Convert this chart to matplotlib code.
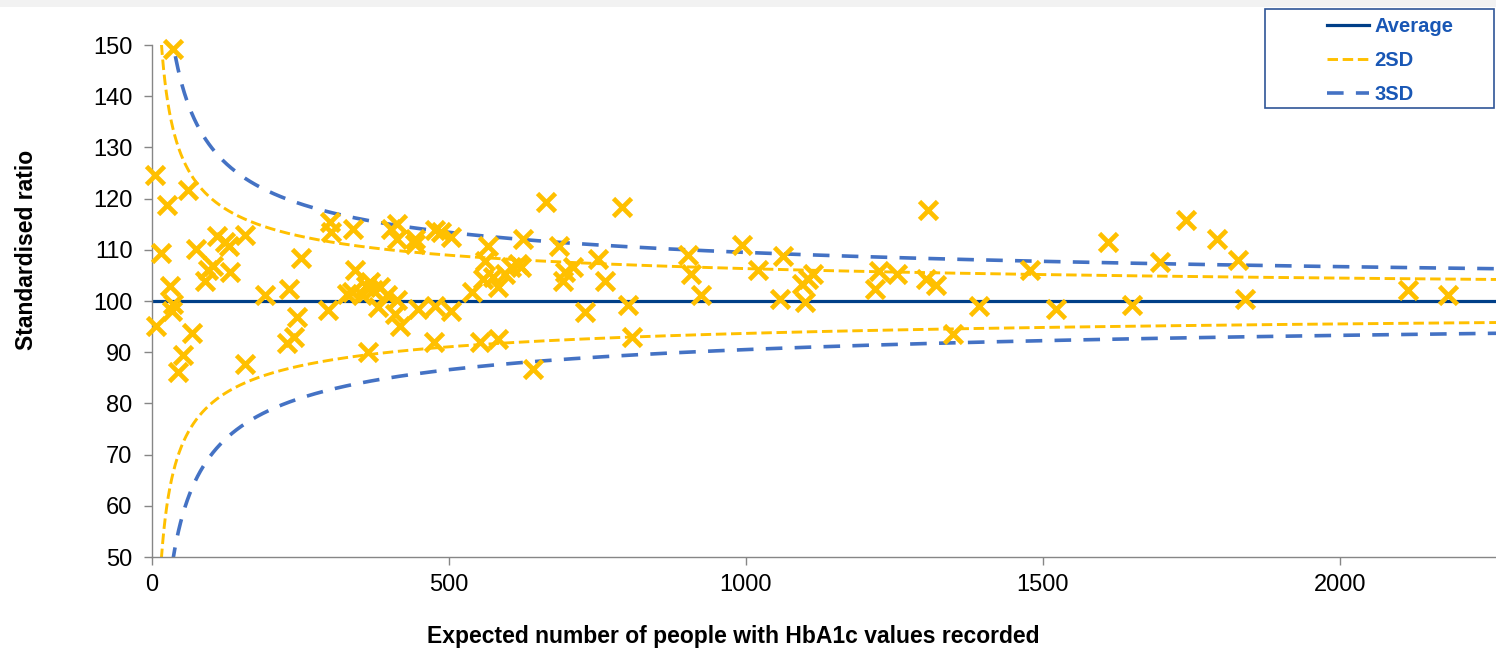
import numpy as np
import matplotlib
matplotlib.use("Agg")
import matplotlib.pyplot as plt
from matplotlib.patches import Rectangle

plt.rcParams['font.family'] = ['Liberation Sans', 'DejaVu Sans']

# expected number of people (x) and standardised ratio (y)
expected = [5, 7, 15, 26, 36, 31, 36, 33, 44, 53, 60, 67, 74, 89, 95, 103, 109, 123, 130, 132,
            157, 157, 190, 227, 231, 239, 244, 251, 297, 300, 301, 328, 336, 339, 342, 353, 361, 364, 367, 372,
            381, 384, 395, 403, 409, 412, 412, 412, 417, 443, 443, 448, 474, 476, 476, 487, 504, 504, 538, 552,
            558, 561, 566, 575, 583, 583, 594, 605, 617, 622, 625, 642, 663, 686, 692, 695, 709, 729, 751, 763,
            791, 802, 809, 903, 907, 925, 994, 1021, 1057, 1063, 1094, 1100, 1105, 1113, 1217, 1224, 1254, 1303, 1307, 1320,
            1348, 1393, 1478, 1522, 1610, 1650, 1697, 1741, 1794, 1829, 1840, 2115, 2182]
ratio = [124.7, 95.2, 109.3, 118.8, 149.2, 103.0, 99.5, 98.1, 86.1, 89.4, 121.7, 93.7, 110.2, 104.0, 106.0, 106.9, 112.6, 111.5, 110.8, 105.6,
         112.8, 87.7, 101.1, 91.8, 102.4, 92.9, 96.8, 108.4, 98.3, 115.4, 113.4, 101.4, 101.7, 114.1, 106.0, 101.1, 103.0, 90.0, 103.7, 102.1,
         98.8, 102.7, 101.1, 114.1, 97.5, 115.1, 112.1, 100.1, 95.2, 112.1, 111.2, 98.5, 92.0, 113.8, 99.1, 113.4, 112.5, 98.1, 101.7, 92.0,
         104.3, 107.9, 110.8, 104.6, 102.7, 92.6, 105.3, 106.6, 107.3, 106.6, 112.1, 86.7, 119.3, 110.8, 104.0, 105.6, 106.6, 97.8, 108.2, 104.0,
         118.3, 99.2, 92.9, 108.9, 105.3, 101.1, 111.0, 106.0, 100.4, 108.7, 103.4, 99.8, 104.3, 105.2, 102.4, 105.8, 105.3, 104.3, 117.7, 103.2,
         93.6, 99.0, 106.1, 98.5, 111.5, 99.3, 107.6, 115.9, 112.1, 108.0, 100.4, 102.2, 101.1]

average = 100
z_2sd = 2
z_3sd = 3
x_max = 2263

fig = plt.figure(figsize=(14.96, 6.49), dpi=100)
fig.add_artist(Rectangle((0, 1 - 7 / 649), 1, 7 / 649, transform=fig.transFigure,
                         fc='#f2f2f2', ec='none'))
ax = fig.add_axes([152 / 1496, 1 - 557 / 649, 1 - 152 / 1496, (557 - 45) / 649])

# funnel limits: average +/- z * sd, sd = average / sqrt(expected)
grid = np.geomspace(1, x_max, 3000)
sd = average / np.sqrt(grid)

ax.axhline(average, color='#003f88', lw=2.3, zorder=2, label='Average')
ax.plot(grid, average + z_2sd * sd, color='#ffc000', lw=2.1, ls=(0, (3.6, 1.6)), label='2SD')
ax.plot(grid, average - z_2sd * sd, color='#ffc000', lw=2.1, ls=(0, (3.6, 1.6)))
ax.plot(grid, average + z_3sd * sd, color='#4472c4', lw=2.6, ls=(0, (4.6, 3.4)), label='3SD')
ax.plot(grid, average - z_3sd * sd, color='#4472c4', lw=2.6, ls=(0, (4.6, 3.4)))

ax.plot(expected, ratio, ls='none', marker='x', ms=12.5, mew=3.4, color='#ffc000',
        zorder=4, clip_on=False)

ax.set_xlim(0, x_max)
ax.set_ylim(50, 150)
ax.set_yticks(range(50, 151, 10))
ax.set_xticks([0, 500, 1000, 1500, 2000])
for s in ['top', 'right']:
    ax.spines[s].set_visible(False)
for s in ['left', 'bottom']:
    ax.spines[s].set_color('#868686')
    ax.spines[s].set_linewidth(1)
ax.tick_params(axis='y', direction='out', length=6, width=1, color='#868686', labelsize=17, pad=8)
ax.tick_params(axis='x', direction='out', length=6, width=1, color='#868686', labelsize=17, pad=6)

leg = ax.legend(loc='upper left', bbox_to_anchor=(1327 / 1496, 1 - 17 / 649),
                bbox_transform=fig.transFigure, frameon=False,
                prop=dict(weight='bold', size=14.5), handlelength=2.1, handletextpad=0.25,
                labelspacing=0.74, borderpad=0, borderaxespad=0)
for t in leg.get_texts():
    t.set_color('#1957b5')
fig.add_artist(Rectangle((1265 / 1496, 1 - 108 / 649), (1494 - 1265) / 1496, (108 - 9) / 649,
                         transform=fig.transFigure, fill=False, ec='#2f5597', lw=1.2))

fig.text(733 / 1496, 1 - 636 / 649, 'Expected number of people with HbA1c values recorded',
         ha='center', va='center', fontsize=16.5, weight='bold')
fig.text(27 / 1496, 1 - 250 / 649, 'Standardised ratio', rotation=90,
         ha='center', va='center', fontsize=16.5, weight='bold')

fig.savefig('out.png', dpi=100)
